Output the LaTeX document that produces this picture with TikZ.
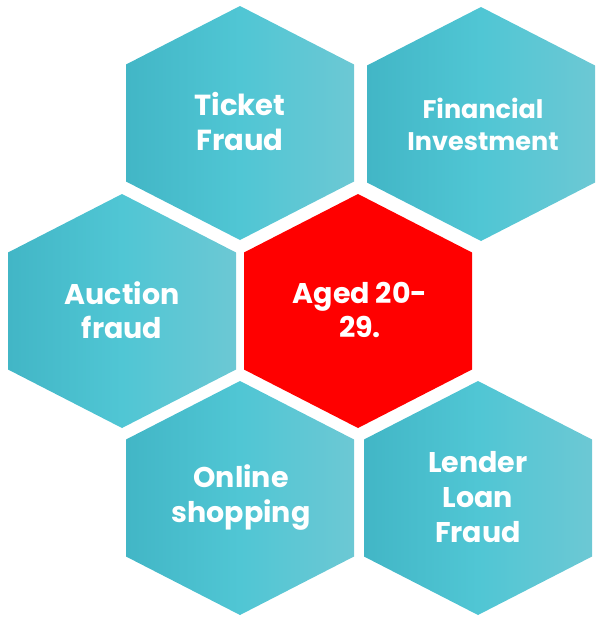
\documentclass[tikz,border=0pt]{standalone}
\usepackage{fontspec}
\setmainfont{Poppins}
\usepackage{xcolor}
\usetikzlibrary{positioning,calc}

\definecolor{tealL}{RGB}{66,182,198}
\definecolor{tealM}{RGB}{80,198,212}
\definecolor{tealR}{RGB}{108,200,212}

\begin{document}
\begin{tikzpicture}[
    x=1pt, y=-1pt,
    hexcell/.style={left color=tealL, right color=tealR, middle color=tealM, draw=none},
    hexcore/.style={fill=red, draw=none},
    hexlabel/.style={text=white, font=\bfseries, align=center, inner sep=0pt}
]
    \useasboundingbox (0,0) rectangle (596,619);

    % Outer cells
    \foreach \cx/\cy in {240/123, 481/124, 122/311, 240/498, 478/498}
        \path[hexcell] (\cx,\cy-117) -- ++(114,58.5) -- ++(0,117) -- ++(-114,58.5)
            -- ++(-114,-58.5) -- ++(0,-117) -- cycle;

    % Centre cell
    \path[hexcore] (358,311-117) -- ++(114,58.5) -- ++(0,117) -- ++(-114,58.5)
        -- ++(-114,-58.5) -- ++(0,-117) -- cycle;

    % Labels
    \node[hexlabel, font=\bfseries\fontsize{29}{35}\selectfont] (ticket) at (240,121) {Ticket\\Fraud};
    \node[hexlabel, font=\bfseries\fontsize{25.5}{32}\selectfont] (invest) at (483,124) {Financial\\Investment};
    \node[hexlabel, font=\bfseries\fontsize{28.5}{34}\selectfont] (auction) at (122,310) {Auction\\fraud};
    \node[hexlabel, font=\bfseries\fontsize{28.5}{34}\selectfont] (aged) at (360,310) {Aged 20-\\29.};
    \node[hexlabel, font=\bfseries\fontsize{28.5}{35}\selectfont] (online) at (241,497) {Online\\shopping};
    \node[hexlabel, font=\bfseries\fontsize{28.5}{35}\selectfont] (lender) at (478,497) {Lender\\Loan\\Fraud};
\end{tikzpicture}
\end{document}
